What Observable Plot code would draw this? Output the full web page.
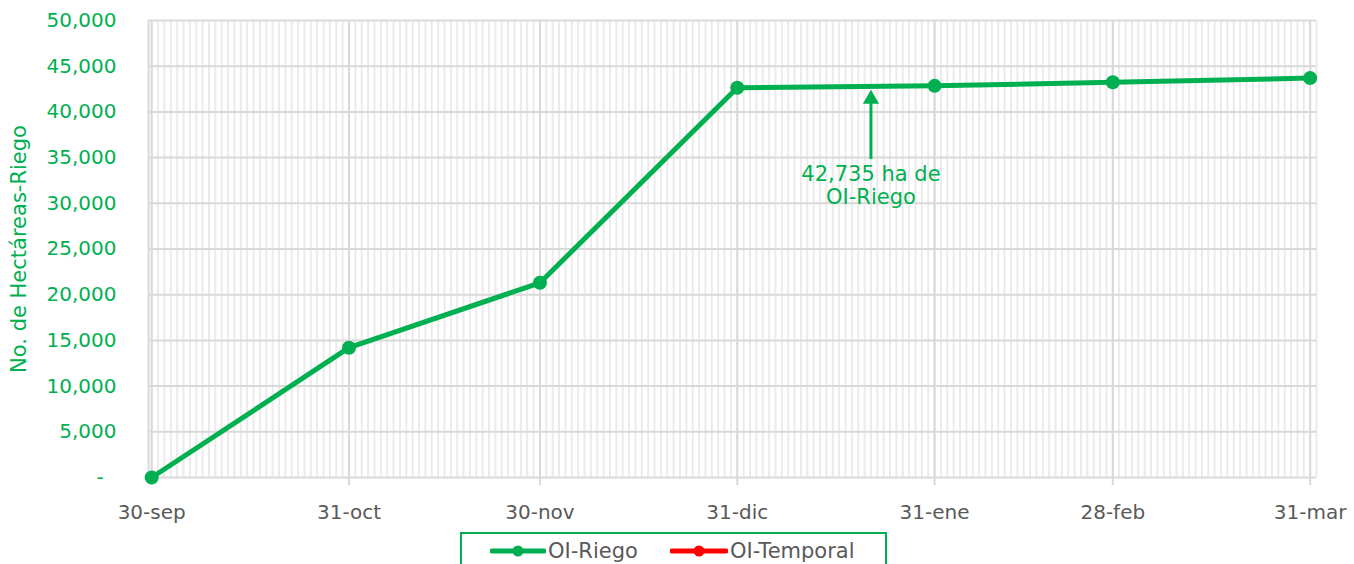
<!DOCTYPE html>
<html>
<head>
<meta charset="utf-8">
<script src="https://cdn.jsdelivr.net/npm/d3@7"></script>
<script src="https://cdn.jsdelivr.net/npm/@observablehq/plot@0.6"></script>
<style>
  html, body { margin: 0; padding: 0; background: #fff; }
  #wrap { position: relative; width: 1354px; height: 564px; overflow: hidden; font-family: "DejaVu Sans", sans-serif; }
  #legend { position: absolute; left: 460px; top: 532px; width: 423px; height: 40px; border: 2px solid #00B050; box-sizing: content-box; }
  .item { position: absolute; top: 2px; display: flex; align-items: center; font-size: 21px; color: #595959; height: 30px; }
  svg [aria-label="y-axis label"] text { font-size: 21px; }
</style>
</head>
<body>
<div id="wrap"></div>
<script>
// Data
const dates = ["2022-09-30", "2022-10-31", "2022-11-30", "2022-12-31", "2023-01-31", "2023-02-28", "2023-03-31"];
const tickLabels = ["30-sep", "31-oct", "30-nov", "31-dic", "31-ene", "28-feb", "31-mar"];
const riegoValues = [0, 14200, 21300, 42650, 42850, 43250, 43700];
const yTicks = [0, 5000, 10000, 15000, 20000, 25000, 30000, 35000, 40000, 45000, 50000];
const seriesNames = ["OI-Riego", "OI-Temporal"];
const seriesColors = ["#00B050", "#FF0000"];
const annotationDate = "2023-01-21";
const annotationText = "42,735 ha de\nOI-Riego";
const annotationTip = 41400;
const annotationShaftTop = 41000;
const annotationBase = 34800;
const annotationTextY = 34100;

const parse = s => new Date(s + "T00:00:00Z");
const data = dates.map((d, i) => ({date: parse(d), value: riegoValues[i]}));
const tickDates = dates.map(parse);
const labelMap = new Map(tickDates.map((d, i) => [+d, tickLabels[i]]));
const x0 = new Date("2022-09-29T12:00:00Z");
const x1 = new Date("2023-04-01T00:00:00Z");
const minorDays = d3.utcDay.range(parse("2022-09-30"), new Date("2023-04-01T12:00:00Z"));
const ann = [{date: parse(annotationDate), tip: annotationTip, shaftTop: annotationShaftTop, base: annotationBase, ty: annotationTextY, text: annotationText}];
const green = seriesColors[0];

const chart = Plot.plot({
  width: 1354,
  height: 564,
  marginLeft: 148,
  marginRight: 38,
  marginTop: 20,
  marginBottom: 87,
  style: {fontFamily: "DejaVu Sans", fontSize: "20px", background: "white", overflow: "visible"},
  x: {type: "utc", domain: [x0, x1]},
  y: {domain: [0, 50000]},
  marks: [
    Plot.ruleX(minorDays, {stroke: "#ebebeb", strokeWidth: 2}),
    Plot.ruleY(yTicks, {stroke: "#d9d9d9", strokeWidth: 2}),
    Plot.ruleX(tickDates, {stroke: "#d9d9d9", strokeWidth: 2}),
    Plot.ruleX([x0], {stroke: "#d9d9d9", strokeWidth: 2}),
    Plot.axisX(tickDates, {
      tickSize: 8, tickPadding: 19, stroke: "#d9d9d9", strokeWidth: 2, fill: "#595959", fontSize: 20,
      tickFormat: d => labelMap.get(+d), label: null
    }),
    Plot.axisY(yTicks, {
      tickSize: 0, tickPadding: 32, fill: green, fontSize: 20,
      tickFormat: d => d === 0 ? "-\u2007" : d3.format(",")(d),
      label: "No. de Hectáreas-Riego", labelAnchor: "center", labelOffset: 137, labelArrow: "none"
    }),
    Plot.line(data, {x: "date", y: "value", stroke: green, strokeWidth: 5}),
    Plot.dot(data, {x: "date", y: "value", r: 7, fill: green}),
    Plot.ruleX(ann, {x: "date", y1: "base", y2: "shaftTop", stroke: green, strokeWidth: 3}),
    Plot.dot(ann, {x: "date", y: "tip", symbol: "triangle", r: 6, fill: green}),
    Plot.text(ann, {x: "date", y: "ty", text: "text", lineAnchor: "top", fill: green, fontSize: 21, lineHeight: 1.05})
  ]
});
const wrap = document.getElementById("wrap");
wrap.appendChild(chart);

// Legend
const legend = document.createElement("div");
legend.id = "legend";
const items = [{left: 28, w: 56}, {left: 208, w: 58}];
seriesNames.forEach((name, i) => {
  const it = document.createElement("div");
  it.className = "item";
  it.style.left = items[i].left + "px";
  const w = items[i].w;
  it.innerHTML = `<svg width="${w}" height="14" style="margin-right:2px"><line x1="2" y1="7" x2="${w-2}" y2="7" stroke="${seriesColors[i]}" stroke-width="5" stroke-linecap="round"/><circle cx="${w/2}" cy="7" r="5.5" fill="${seriesColors[i]}"/></svg><span>${name}</span>`;
  legend.appendChild(it);
});
wrap.appendChild(legend);
</script>
</body>
</html>
